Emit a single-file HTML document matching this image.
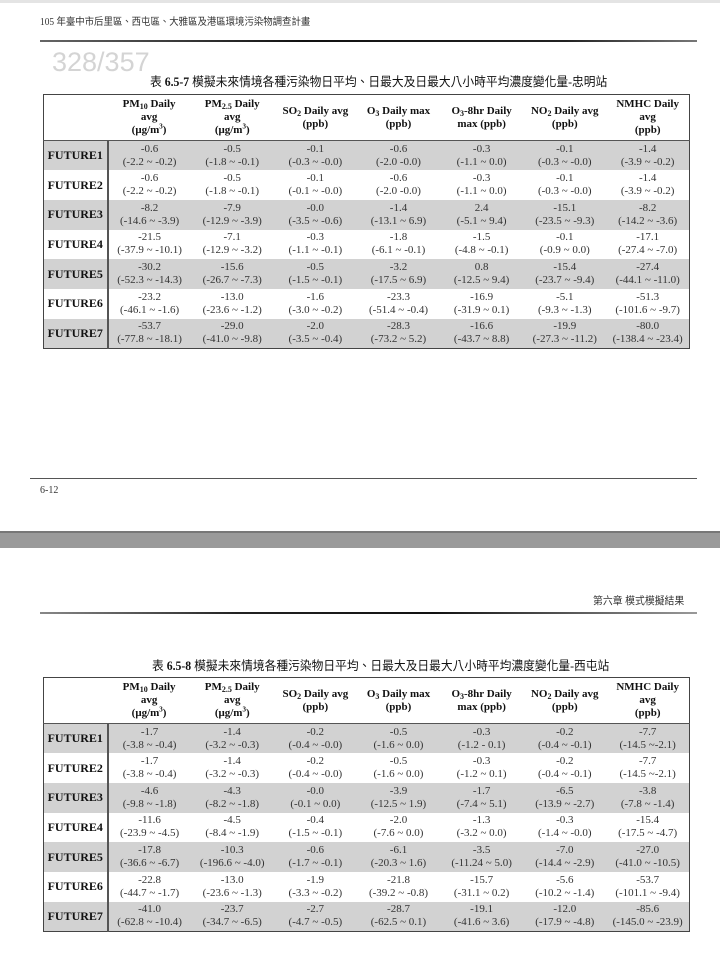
<!DOCTYPE html><html><head><meta charset="utf-8"><style>
body{margin:0;width:720px;height:960px;background:#fff;position:relative;overflow:hidden;font-family:"Liberation Serif","Noto Serif CJK SC",serif;color:#222}
.a{position:absolute}
table{position:absolute;left:43px;width:647px;border-collapse:collapse;border:1px solid #444;font-size:11px;table-layout:fixed}
td{text-align:center;padding:0;line-height:13px;color:#333}
th{font-weight:bold;font-size:11px;line-height:13px;height:45px;padding:0;color:#111}
td.h{font-weight:bold;font-size:12px;border-right:2px solid #555;color:#111}
tr.g td{background:#d2d2d2}
tbody tr{height:29.7px}
thead tr{border-bottom:1px solid #555}
sub{font-size:8px;vertical-align:-2px;line-height:0}
sup{font-size:7px;line-height:0}
.cn{font-family:"Liberation Serif","Noto Sans CJK TC",sans-serif;transform-origin:0 0;white-space:nowrap}
</style></head><body>
<div class="a" style="left:0;top:0;width:720px;height:3px;background:#e4e4e4"></div>
<div class="a cn" style="left:40px;top:13px;font-size:10px;color:#333;transform:scaleX(0.94)">105 年臺中市后里區、西屯區、大雅區及港區環境污染物調查計畫</div>
<div class="a" style="left:40px;top:40px;width:657px;height:2px;background:linear-gradient(90deg,#666,#111 40%,#222 80%,#777)"></div>
<div class="a" style="left:52px;top:47px;font-family:'Liberation Sans',sans-serif;font-size:27px;color:#d4d4d4">328/357</div>
<div class="a cn" style="left:150px;top:71px;font-size:12.5px;color:#111;transform:scaleX(0.94)">表 <b>6.5-7</b> 模擬未來情境各種污染物日平均、日最大及日最大八小時平均濃度變化量-忠明站</div>
<table style="top:94px"><colgroup><col style="width:64px"><col span="7"></colgroup>
<thead><tr><th></th><th>PM<sub>10</sub> Daily<br>avg<br>(μg/m<sup>3</sup>)</th><th>PM<sub>2.5</sub> Daily<br>avg<br>(μg/m<sup>3</sup>)</th><th>SO<sub>2</sub> Daily avg<br>(ppb)</th><th>O<sub>3</sub> Daily max<br>(ppb)</th><th>O<sub>3</sub>-8hr Daily<br>max (ppb)</th><th>NO<sub>2</sub> Daily avg<br>(ppb)</th><th>NMHC Daily<br>avg<br>(ppb)</th></tr></thead>
<tbody>
<tr class="g"><td class="h">FUTURE1</td><td>-0.6<br>(-2.2 ~ -0.2)</td><td>-0.5<br>(-1.8 ~ -0.1)</td><td>-0.1<br>(-0.3 ~ -0.0)</td><td>-0.6<br>(-2.0 -0.0)</td><td>-0.3<br>(-1.1 ~ 0.0)</td><td>-0.1<br>(-0.3 ~ -0.0)</td><td>-1.4<br>(-3.9 ~ -0.2)</td></tr>
<tr><td class="h">FUTURE2</td><td>-0.6<br>(-2.2 ~ -0.2)</td><td>-0.5<br>(-1.8 ~ -0.1)</td><td>-0.1<br>(-0.1 ~ -0.0)</td><td>-0.6<br>(-2.0 -0.0)</td><td>-0.3<br>(-1.1 ~ 0.0)</td><td>-0.1<br>(-0.3 ~ -0.0)</td><td>-1.4<br>(-3.9 ~ -0.2)</td></tr>
<tr class="g"><td class="h">FUTURE3</td><td>-8.2<br>(-14.6 ~ -3.9)</td><td>-7.9<br>(-12.9 ~ -3.9)</td><td>-0.0<br>(-3.5 ~ -0.6)</td><td>-1.4<br>(-13.1 ~ 6.9)</td><td>2.4<br>(-5.1 ~ 9.4)</td><td>-15.1<br>(-23.5 ~ -9.3)</td><td>-8.2<br>(-14.2 ~ -3.6)</td></tr>
<tr><td class="h">FUTURE4</td><td>-21.5<br>(-37.9 ~ -10.1)</td><td>-7.1<br>(-12.9 ~ -3.2)</td><td>-0.3<br>(-1.1 ~ -0.1)</td><td>-1.8<br>(-6.1 ~ -0.1)</td><td>-1.5<br>(-4.8 ~ -0.1)</td><td>-0.1<br>(-0.9 ~ 0.0)</td><td>-17.1<br>(-27.4 ~ -7.0)</td></tr>
<tr class="g"><td class="h">FUTURE5</td><td>-30.2<br>(-52.3 ~ -14.3)</td><td>-15.6<br>(-26.7 ~ -7.3)</td><td>-0.5<br>(-1.5 ~ -0.1)</td><td>-3.2<br>(-17.5 ~ 6.9)</td><td>0.8<br>(-12.5 ~ 9.4)</td><td>-15.4<br>(-23.7 ~ -9.4)</td><td>-27.4<br>(-44.1 ~ -11.0)</td></tr>
<tr><td class="h">FUTURE6</td><td>-23.2<br>(-46.1 ~ -1.6)</td><td>-13.0<br>(-23.6 ~ -1.2)</td><td>-1.6<br>(-3.0 ~ -0.2)</td><td>-23.3<br>(-51.4 ~ -0.4)</td><td>-16.9<br>(-31.9 ~ 0.1)</td><td>-5.1<br>(-9.3 ~ -1.3)</td><td>-51.3<br>(-101.6 ~ -9.7)</td></tr>
<tr class="g"><td class="h">FUTURE7</td><td>-53.7<br>(-77.8 ~ -18.1)</td><td>-29.0<br>(-41.0 ~ -9.8)</td><td>-2.0<br>(-3.5 ~ -0.4)</td><td>-28.3<br>(-73.2 ~ 5.2)</td><td>-16.6<br>(-43.7 ~ 8.8)</td><td>-19.9<br>(-27.3 ~ -11.2)</td><td>-80.0<br>(-138.4 ~ -23.4)</td></tr>
</tbody></table>
<div class="a" style="left:30px;top:478px;width:667px;height:1px;background:#555"></div>
<div class="a" style="left:40px;top:485px;font-size:10px;color:#333">6-12</div>
<div class="a" style="left:0;top:533px;width:720px;height:15px;background:#9a9a9a"></div>
<div class="a" style="left:0;top:531px;width:720px;height:2px;background:#777"></div>
<div class="a cn" style="left:593px;top:593px;font-size:10.5px;color:#333;transform:scaleX(0.94)">第六章 模式模擬結果</div>
<div class="a" style="left:40px;top:612px;width:657px;height:2px;background:linear-gradient(90deg,#888,#222 30%,#111 60%,#999)"></div>
<div class="a cn" style="left:152px;top:655px;font-size:12.5px;color:#111;transform:scaleX(0.94)">表 <b>6.5-8</b> 模擬未來情境各種污染物日平均、日最大及日最大八小時平均濃度變化量-西屯站</div>
<table style="top:677px"><colgroup><col style="width:64px"><col span="7"></colgroup>
<thead><tr><th></th><th>PM<sub>10</sub> Daily<br>avg<br>(μg/m<sup>3</sup>)</th><th>PM<sub>2.5</sub> Daily<br>avg<br>(μg/m<sup>3</sup>)</th><th>SO<sub>2</sub> Daily avg<br>(ppb)</th><th>O<sub>3</sub> Daily max<br>(ppb)</th><th>O<sub>3</sub>-8hr Daily<br>max (ppb)</th><th>NO<sub>2</sub> Daily avg<br>(ppb)</th><th>NMHC Daily<br>avg<br>(ppb)</th></tr></thead>
<tbody>
<tr class="g"><td class="h">FUTURE1</td><td>-1.7<br>(-3.8 ~ -0.4)</td><td>-1.4<br>(-3.2 ~ -0.3)</td><td>-0.2<br>(-0.4 ~ -0.0)</td><td>-0.5<br>(-1.6 ~ 0.0)</td><td>-0.3<br>(-1.2 - 0.1)</td><td>-0.2<br>(-0.4 ~ -0.1)</td><td>-7.7<br>(-14.5 ~-2.1)</td></tr>
<tr><td class="h">FUTURE2</td><td>-1.7<br>(-3.8 ~ -0.4)</td><td>-1.4<br>(-3.2 ~ -0.3)</td><td>-0.2<br>(-0.4 ~ -0.0)</td><td>-0.5<br>(-1.6 ~ 0.0)</td><td>-0.3<br>(-1.2 ~ 0.1)</td><td>-0.2<br>(-0.4 ~ -0.1)</td><td>-7.7<br>(-14.5 ~-2.1)</td></tr>
<tr class="g"><td class="h">FUTURE3</td><td>-4.6<br>(-9.8 ~ -1.8)</td><td>-4.3<br>(-8.2 ~ -1.8)</td><td>-0.0<br>(-0.1 ~ 0.0)</td><td>-3.9<br>(-12.5 ~ 1.9)</td><td>-1.7<br>(-7.4 ~ 5.1)</td><td>-6.5<br>(-13.9 ~ -2.7)</td><td>-3.8<br>(-7.8 ~ -1.4)</td></tr>
<tr><td class="h">FUTURE4</td><td>-11.6<br>(-23.9 ~ -4.5)</td><td>-4.5<br>(-8.4 ~ -1.9)</td><td>-0.4<br>(-1.5 ~ -0.1)</td><td>-2.0<br>(-7.6 ~ 0.0)</td><td>-1.3<br>(-3.2 ~ 0.0)</td><td>-0.3<br>(-1.4 ~ -0.0)</td><td>-15.4<br>(-17.5 ~ -4.7)</td></tr>
<tr class="g"><td class="h">FUTURE5</td><td>-17.8<br>(-36.6 ~ -6.7)</td><td>-10.3<br>(-196.6 ~ -4.0)</td><td>-0.6<br>(-1.7 ~ -0.1)</td><td>-6.1<br>(-20.3 ~ 1.6)</td><td>-3.5<br>(-11.24 ~ 5.0)</td><td>-7.0<br>(-14.4 ~ -2.9)</td><td>-27.0<br>(-41.0 ~ -10.5)</td></tr>
<tr><td class="h">FUTURE6</td><td>-22.8<br>(-44.7 ~ -1.7)</td><td>-13.0<br>(-23.6 ~ -1.3)</td><td>-1.9<br>(-3.3 ~ -0.2)</td><td>-21.8<br>(-39.2 ~ -0.8)</td><td>-15.7<br>(-31.1 ~ 0.2)</td><td>-5.6<br>(-10.2 ~ -1.4)</td><td>-53.7<br>(-101.1 ~ -9.4)</td></tr>
<tr class="g"><td class="h">FUTURE7</td><td>-41.0<br>(-62.8 ~ -10.4)</td><td>-23.7<br>(-34.7 ~ -6.5)</td><td>-2.7<br>(-4.7 ~ -0.5)</td><td>-28.7<br>(-62.5 ~ 0.1)</td><td>-19.1<br>(-41.6 ~ 3.6)</td><td>-12.0<br>(-17.9 ~ -4.8)</td><td>-85.6<br>(-145.0 ~ -23.9)</td></tr>
</tbody></table>
</body></html>
